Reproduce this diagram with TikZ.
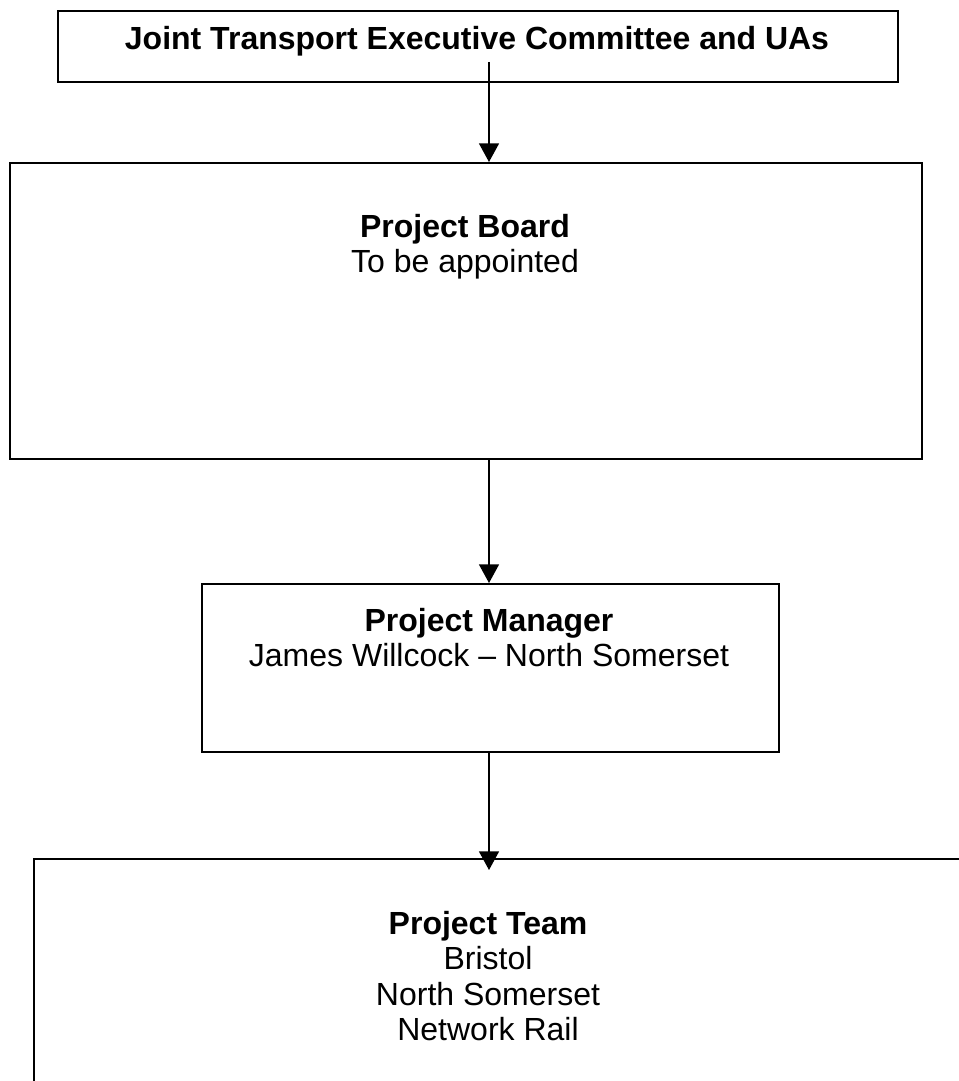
\documentclass[tikz,border=0pt]{standalone}
\usepackage{fontspec}
\setmainfont{Liberation Sans}
\usetikzlibrary{arrows.meta}
\begin{document}
\begin{tikzpicture}[x=0.75pt,y=-0.75pt,
  box/.style={draw=black,line width=1.5pt,fill=white},
  lbl/.style={align=center,inner sep=0pt,font=\fontsize{24}{26.5}\selectfont},
  conn/.style={line width=1.1pt,-{Triangle[length=14pt,width=15pt]}}]
\useasboundingbox (0,0) rectangle (959,1081);
\clip (0,0) rectangle (959,1081);
% boxes
\node[box,anchor=north west,minimum width=840*0.75pt,minimum height=71*0.75pt,inner sep=0pt] (jtec) at (57,10) {};
\node[box,anchor=north west,minimum width=912*0.75pt,minimum height=296*0.75pt,inner sep=0pt] (board) at (9,162) {};
\node[box,anchor=north west,minimum width=577*0.75pt,minimum height=168*0.75pt,inner sep=0pt] (pm) at (201,583) {};
\node[box,anchor=north west,minimum width=1000*0.75pt,minimum height=300*0.75pt,inner sep=0pt] (team) at (33,858) {};
% texts
\node[lbl] (jtect) at (477,41) {\textbf{Joint Transport Executive Committee and UAs}};
\node[lbl,anchor=north] (boardt) at (465,214) {\textbf{Project Board}\\To be appointed};
\node[lbl,anchor=north] (pmt) at (489,608) {\textbf{Project Manager}\\James Willcock – North Somerset};
\node[lbl,anchor=north] (teamt) at (488,911) {\textbf{Project Team}\\Bristol\\North Somerset\\Network Rail};
% connectors
\coordinate (c1) at (489,62);
\coordinate (c2) at (489,458);
\coordinate (c3) at (489,751);
\draw[conn] (c1) -- (c1 |- board.north);
\draw[conn] (c2) -- (c2 |- pm.north);
\draw[conn] (c3) -- (489,870);
\end{tikzpicture}
\end{document}
